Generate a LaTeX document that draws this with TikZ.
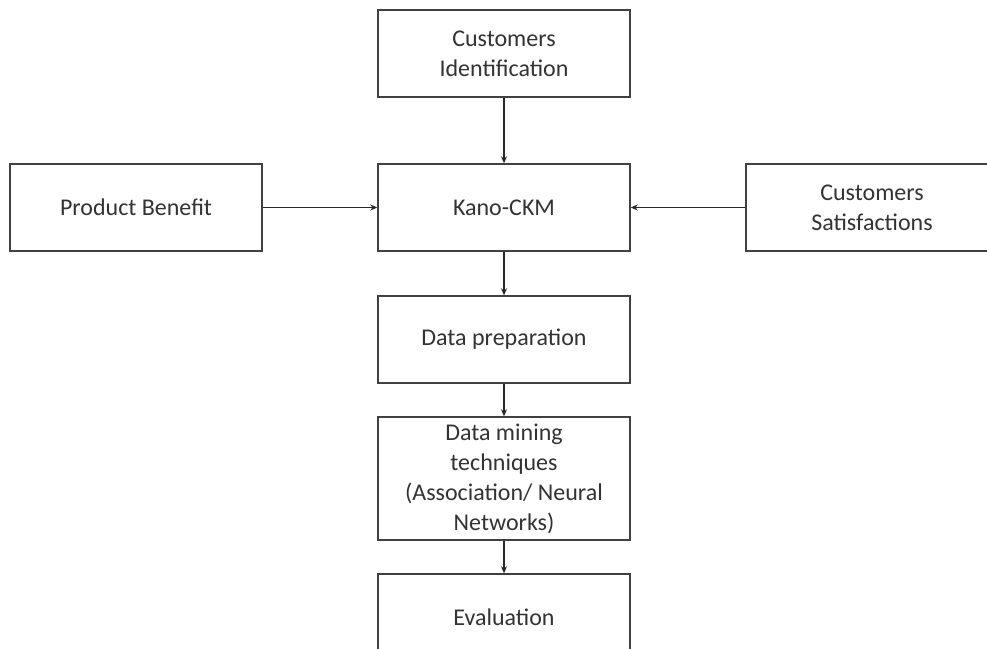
\documentclass[tikz,border=0pt]{standalone}
\usepackage{fontspec}
\setmainfont{Carlito}
\usetikzlibrary{arrows.meta}

\tikzset{
	procbox/.style={draw=black!75, line width=1.5pt, fill=white, minimum width=252, minimum height=87, align=center, inner sep=0.75pt, font=\fontsize{24}{30}\selectfont, text=black!80},
	flowarrow/.style={draw=black!85, line width=1.1pt, -{Stealth[length=7pt,width=6pt]}}
}

\begin{document}
\begin{tikzpicture}[x=1pt,y=1pt,yscale=-1,xscale=1]
				\useasboundingbox (0,0) rectangle (987,648);

				% Text Node
				\node [procbox] (custid) at (504,53.5) {Customers\\Identification};
				% Text Node
				\node [procbox] (kano) at (504,207.5) {Kano-CKM};
				% Text Node
				\node [procbox] (benefit) at (136,207.5) {Product Benefit};
				% Text Node
				\node [procbox] (custsat) at (872,207.5) {Customers\\Satisfactions};
				% Text Node
				\node [procbox] (dataprep) at (504,339.5) {Data preparation};
				% Text Node
				\node [procbox, minimum height=123] (mining) at (504,478.5) {Data mining\\techniques\\(Association/ Neural\\Networks)};
				% Text Node
				\node [procbox] (evaluation) at (504,617.5) {Evaluation};

				%Straight Lines
				\draw [flowarrow] (custid) -- (kano);
				\draw [flowarrow] (benefit) -- (kano);
				\draw [flowarrow] (custsat) -- (kano);
				\draw [flowarrow] (kano) -- (dataprep);
				\draw [flowarrow] (dataprep) -- (mining);
				\draw [flowarrow] (mining) -- (evaluation);

		\end{tikzpicture}
\end{document}
